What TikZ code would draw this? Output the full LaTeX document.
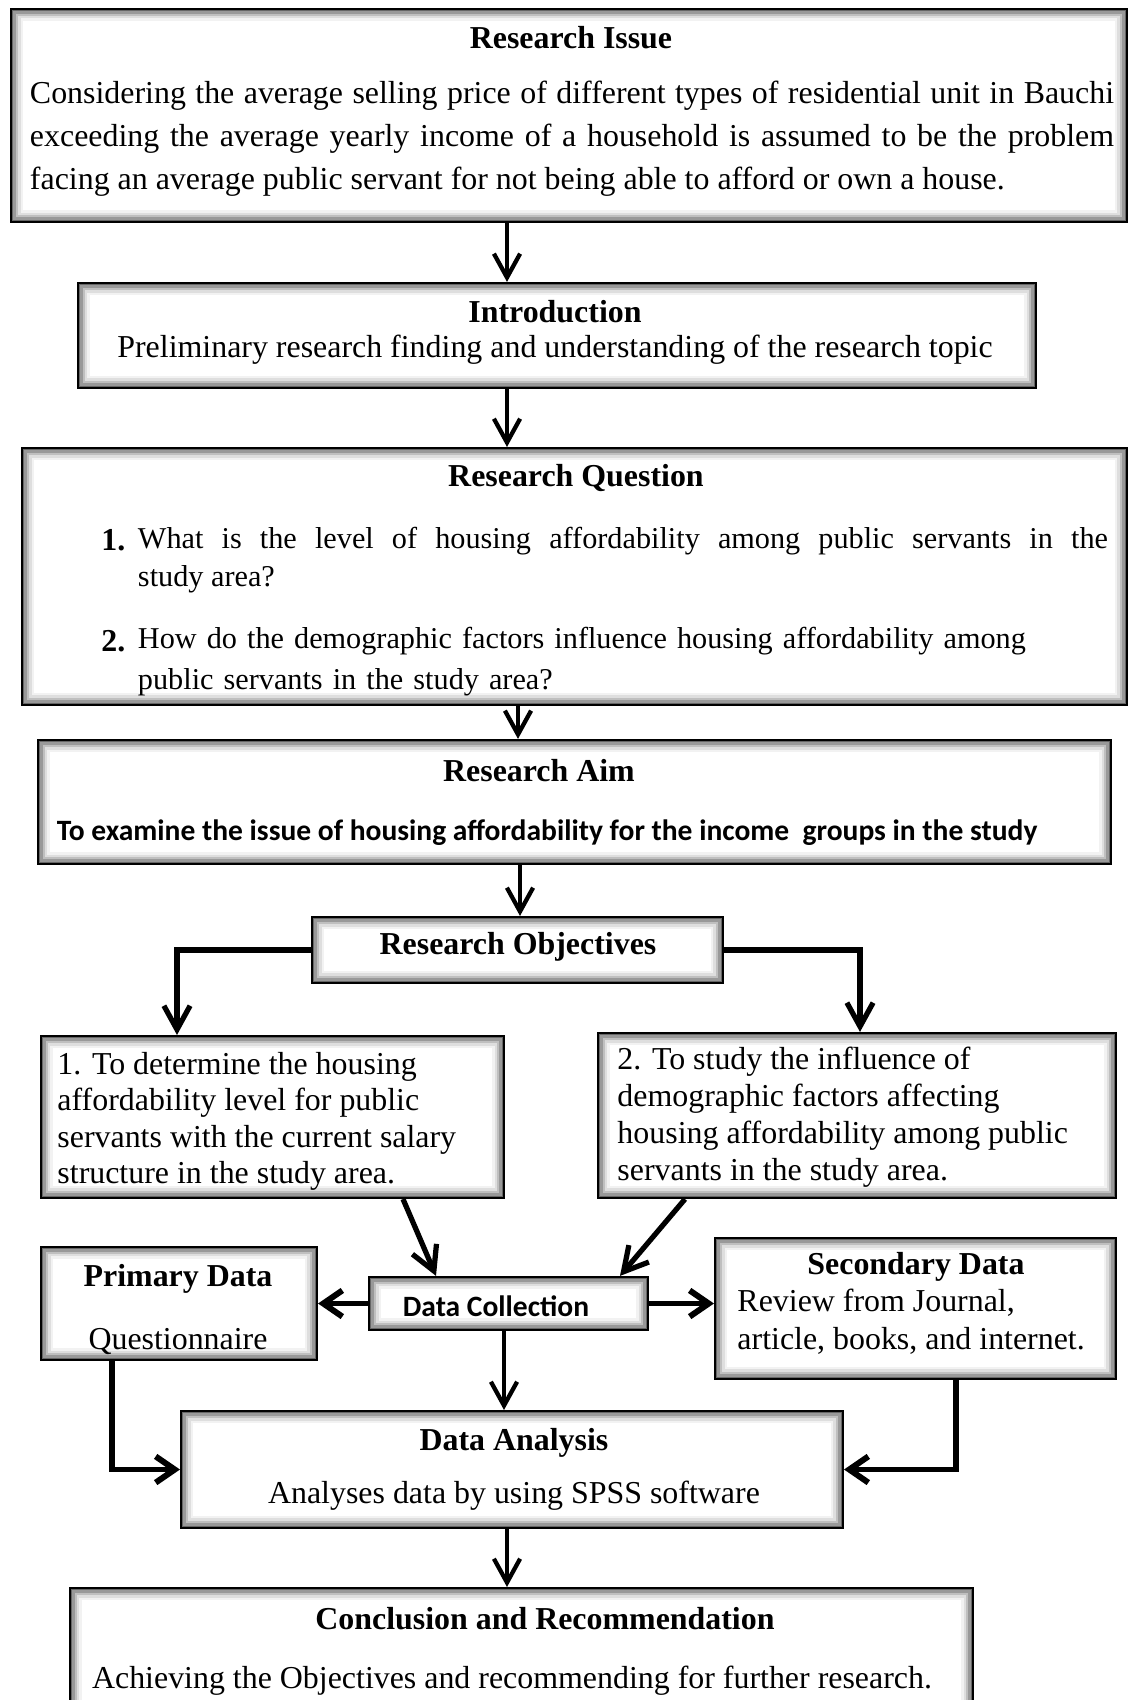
\documentclass[tikz,border=0pt]{standalone}
\usepackage{fontspec}
\setmainfont{Liberation Serif}
\newfontfamily\calibri{Carlito}
\usetikzlibrary{arrows.meta}

\begin{document}
\begin{tikzpicture}[x=0.42pt,y=-0.42pt,
  box/.style={draw,line width=0.9pt,fill=white,inner sep=0pt,
    path picture={
      \foreach \d/\g in {0.5/60,1.5/40,2.5/25,3.5/13,4.5/5}
        \draw[line width=1pt,black!\g]
          ([shift={(\d pt,-\d pt)}]path picture bounding box.north west) rectangle
          ([shift={(-\d pt,\d pt)}]path picture bounding box.south east);
    }},
  ttl/.style={font=\bfseries\fontsize{13.4}{15}\selectfont,inner sep=0pt},
  txt/.style={font=\fontsize{13.4}{15}\selectfont,inner sep=0pt},
  cal/.style={font=\calibri\bfseries\fontsize{12.4}{14}\selectfont,inner sep=0pt},
  arr/.style={line width=1.8pt,-{Straight Barb[length=10pt,width=11pt]}},
  arrb/.style={line width=2.5pt,-{Straight Barb[length=8pt,width=11pt]}}]
\useasboundingbox (0,0) rectangle (1136,1700);
\clip (0,0) rectangle (1136,1700);

\node[box,minimum width=468.7pt,minimum height=89.5pt] (issue) at (569,115.5) {};
\node[ttl] (issueT) at (571,38) {Research Issue};
\node[txt,text width=455.3pt,align=justify,font=\fontsize{13.4}{18}\selectfont] (issueX) at (572,139)
  {Considering the average selling price of different types of residential unit in Bauchi\linebreak
   exceeding the average yearly income of a household is assumed to be the problem\linebreak
   facing an average public servant for not being able to afford or own a house.};

\node[box,minimum width=402.4pt,minimum height=44.1pt] (intro) at (557,335.5) {};
\node[ttl] (introT) at (555,312) {Introduction};
\node[txt] (introX) at (555,350) {Preliminary research finding and understanding of the research topic};

\node[box,minimum width=464.1pt,minimum height=107.9pt] (quest) at (574.5,576.5) {};
\node[ttl] (questT) at (576,478) {Research Question};
\node[ttl,anchor=west] (questA) at (101,540) {1.};
\node[txt,text width=407.4pt,align=justify,font=\fontsize{12.7}{16}\selectfont] (questX) at (623,560)
  {What is the level of housing affordability among public servants in the\linebreak study area?};
\node[ttl,anchor=west] (questB) at (101,641) {2.};
\node[txt,text width=407.4pt,align=left,font=\fontsize{12.7}{17.2}\selectfont] (questY) at (623,662)
  {How do the demographic factors influence housing affordability among\\public servants in the study area?};

\node[box,minimum width=450.7pt,minimum height=52.1pt] (aim) at (574.5,802) {};
\node[ttl] (aimT) at (539,771) {Research Aim};
\node[cal] (aimX) at (547,833) {To examine the issue of housing affordability for the income\ \ groups in the study};

\node[box,minimum width=172.6pt,minimum height=27.7pt] (obj) at (517.5,950) {};
\node[ttl] (objT) at (518,947) {Research Objectives};

\node[box,minimum width=194.5pt,minimum height=68pt] (obj1) at (272.5,1117) {};
\node[txt,anchor=west,align=left,font=\fontsize{13.4}{15.3}\selectfont] (obj1X) at (57,1121.5)
  {1. To determine the housing\\affordability level for public\\servants with the current salary\\structure in the study area.};

\node[box,minimum width=217.6pt,minimum height=69.3pt] (obj2) at (857,1115.5) {};
\node[txt,anchor=west,align=left,font=\fontsize{13.4}{15.5}\selectfont] (obj2X) at (617,1117.5)
  {2. To study the influence of\\demographic factors affecting\\housing affordability among public\\servants in the study area.};

\node[box,minimum width=117.2pt,minimum height=22.3pt] (dc) at (508.5,1303.5) {};
\node[cal] (dcX) at (496,1306) {Data Collection};

\node[box,minimum width=115.9pt,minimum height=47.5pt] (prim) at (179,1303.5) {};
\node[ttl] (primT) at (178,1279) {Primary Data};
\node[txt] (primX) at (178,1342) {Questionnaire};

\node[box,minimum width=168.4pt,minimum height=59.2pt] (sec) at (915.5,1308.5) {};
\node[ttl] (secT) at (916,1267) {Secondary Data};
\node[txt,anchor=west,align=left,font=\fontsize{13.4}{16}\selectfont] (secX) at (737,1322)
  {Review from Journal,\\article, books, and internet.};

\node[box,minimum width=278pt,minimum height=49.1pt] (da) at (512,1469.5) {};
\node[ttl] (daT) at (514,1443) {Data Analysis};
\node[txt] (daX) at (514,1496) {Analyses data by using SPSS software};

\node[box,minimum width=379.3pt,minimum height=55.4pt] (concl) at (521.5,1654) {};
\node[ttl] (conclT) at (545,1619) {Conclusion and Recommendation};
\node[txt] (conclX) at (512,1681) {Achieving the Objectives and recommending for further research.};

\draw[arr] (issue.south -| 507,0) -- (intro.north -| 507,0);
\draw[arr] (intro.south -| 507,0) -- (quest.north -| 507,0);
\draw[arr] (quest.south -| 518,0) -- (aim.north -| 518,0);
\draw[arr] (aim.south -| 520,0) -- (obj.north -| 520,0);
\draw[arr,line width=2.2pt] (obj.west) -| (obj1.north -| 177,0);
\draw[arr,line width=2.2pt] (obj.east) -| (obj2.north -| 860,0);
\draw[arr,line width=2.2pt] (obj1.south -| 403,0) -- (dc.north -| 436,0);
\draw[arr,line width=2.2pt] (obj2.south -| 685,0) -- (dc.north -| 620,0);
\draw[arrb] (dc.west) -- (prim.east |- dc.west);
\draw[arrb] (dc.east) -- (sec.west |- dc.east);
\draw[arr] (dc.south -| 504,0) -- (da.north -| 504,0);
\draw[arrb] (prim.south -| 112,0) |- (da.west);
\draw[arrb] (sec.south -| 956,0) |- (da.east);
\draw[arr] (da.south -| 507,0) -- (concl.north -| 507,0);
\end{tikzpicture}
\end{document}
